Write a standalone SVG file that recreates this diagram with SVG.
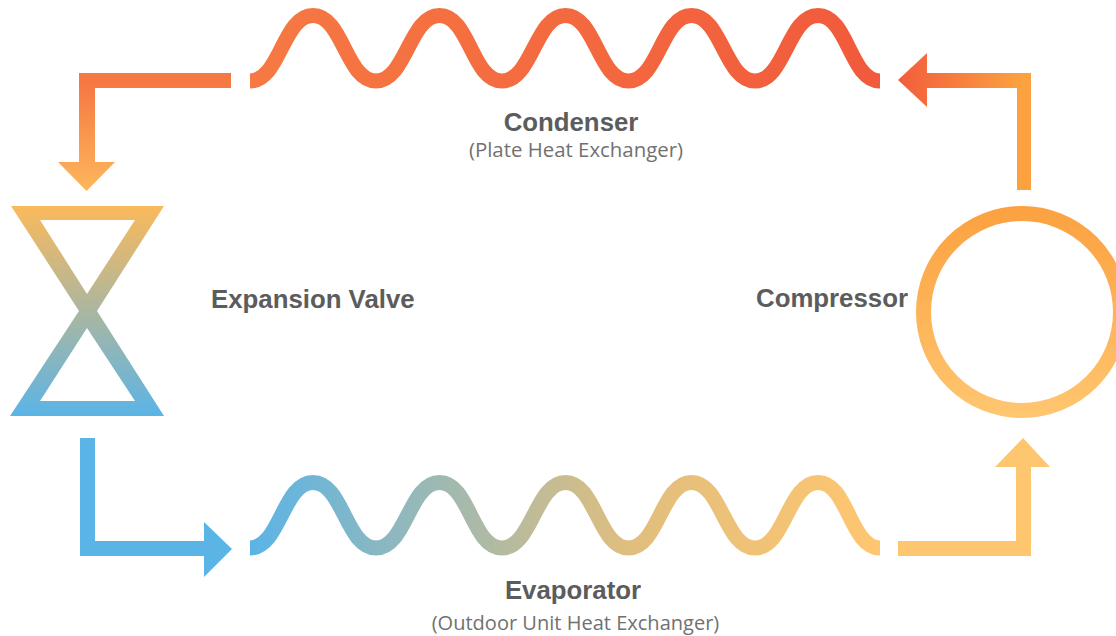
<svg xmlns="http://www.w3.org/2000/svg" width="1116" height="636" viewBox="0 0 1116 636">
<style>
.title{font-family:"Liberation Sans",Arial,sans-serif;font-weight:700;font-size:25.8px;fill:#5c5c5c}
.sub{font-family:"Open Sans","Noto Sans",sans-serif;font-size:20.4px;fill:#717171}
.sub2{font-size:20.05px}
.mid{text-anchor:middle}
.wave{fill:none;stroke-width:15}
</style>
<defs>
<linearGradient id="gCond" gradientUnits="userSpaceOnUse" x1="250" y1="0" x2="880" y2="0"><stop offset="0" stop-color="#F67943"/><stop offset="1" stop-color="#F15A3C"/></linearGradient>
<linearGradient id="gEvap" gradientUnits="userSpaceOnUse" x1="250" y1="0" x2="880" y2="0"><stop offset="0" stop-color="#5BB4E6"/><stop offset="0.6" stop-color="#E0BE7E"/><stop offset="1" stop-color="#FFC670"/></linearGradient>
<linearGradient id="gA1" gradientUnits="userSpaceOnUse" x1="0" y1="85" x2="0" y2="191"><stop offset="0" stop-color="#F67943"/><stop offset="1" stop-color="#FDB75C"/></linearGradient>
<linearGradient id="gA2" gradientUnits="userSpaceOnUse" x1="898" y1="0" x2="1020" y2="0"><stop offset="0" stop-color="#F25D3D"/><stop offset="1" stop-color="#FBA140"/></linearGradient>
<linearGradient id="gValve" gradientUnits="userSpaceOnUse" x1="0" y1="206" x2="0" y2="416"><stop offset="0" stop-color="#FBB95B"/><stop offset="1" stop-color="#5BB4E6"/></linearGradient>
<linearGradient id="gComp" gradientUnits="userSpaceOnUse" x1="0" y1="206" x2="0" y2="418"><stop offset="0" stop-color="#FBA140"/><stop offset="1" stop-color="#FFC670"/></linearGradient>
</defs>
<g id="connectors">
<polygon fill="url(#gA1)" points="231,73 79,73 79,162 58,162 86.5,191 115,162 95,162 95,88 231,88"/>
<polygon fill="url(#gA2)" points="898,80 927,53 927,73 1031,73 1031,190 1017,190 1017,88 927,88 927,107"/>
<polygon fill="#5BB4E6" points="80,438 95,438 95,541 204,541 204,522 232,549 204,577 204,556 80,556"/>
<polygon fill="#FFC670" points="898,541 1016,541 1016,467 995,467 1023,438 1050,467 1031,467 1031,556 898,556"/>
</g>
<g id="condenser">
<path class="wave" stroke="url(#gCond)" d="M250,81 C280,81 283,15.500 313,15.500 S346,81 376,81 S409.500,15.500 439.500,15.500 S472,81 502,81 S535.500,15.500 565.500,15.500 S598.500,81 628.500,81 S661.500,15.500 691.500,15.500 S725,81 755,81 S788,15.500 818,15.500 S850,81 880,81"/>
<text class="title mid" x="571" y="131">Condenser</text>
<text class="sub mid" x="576" y="157">(Plate Heat Exchanger)</text>
</g>
<g id="evaporator">
<path class="wave" stroke="url(#gEvap)" d="M250,548 C280,548 283,482.500 313,482.500 S346,548 376,548 S409.500,482.500 439.500,482.500 S472,548 502,548 S535.500,482.500 565.500,482.500 S598.500,548 628.500,548 S661.500,482.500 691.500,482.500 S725,548 755,548 S788,482.500 818,482.500 S850,548 880,548"/>
<text class="title mid" x="573" y="599">Evaporator</text>
<text class="sub sub2 mid" x="575.500" y="630">(Outdoor Unit Heat Exchanger)</text>
</g>
<g id="expansion-valve">
<path fill="url(#gValve)" fill-rule="evenodd" d="M11,206 H164 L97,311 L164,416 H10 L79,311 Z M40,220 L87,294 L135,220 Z M40,401 H135 L87,328 Z"/>
<text class="title" x="211" y="308">Expansion Valve</text>
</g>
<g id="compressor">
<circle cx="1022" cy="312" r="98.500" fill="none" stroke="url(#gComp)" stroke-width="15"/>
<text class="title" x="756" y="307">Compressor</text>
</g>
</svg>
